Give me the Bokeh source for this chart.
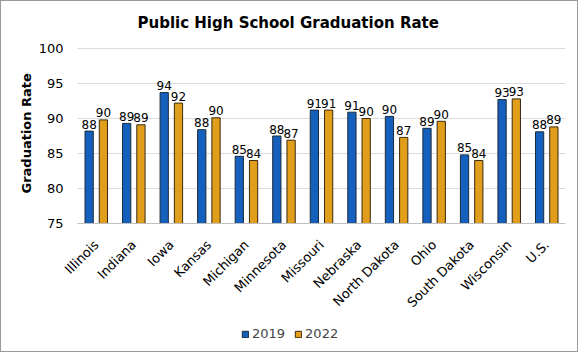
import math
from bokeh.plotting import figure
from bokeh.models import ColumnDataSource, Range1d, Legend, LegendItem, Title
from bokeh.transform import dodge
from bokeh.core.properties import value
from bokeh.embed import file_html
from bokeh.resources import INLINE

states = ["Illinois", "Indiana", "Iowa", "Kansas", "Michigan", "Minnesota", "Missouri",
          "Nebraska", "North Dakota", "Ohio", "South Dakota", "Wisconsin", "U.S."]
rate_2019 = [88.2, 89.3, 93.7, 88.4, 84.6, 87.5, 91.2, 90.9, 90.3, 88.6, 84.8, 92.7, 88.1]
rate_2022 = [89.8, 89.1, 92.2, 90.1, 84.0, 86.9, 91.2, 90.0, 87.3, 89.6, 84.0, 92.8, 88.8]
y_ticks = [75, 80, 85, 90, 95, 100]
y_base = 75
y_top = 100

FONT = "DejaVu Sans"
BLUE = "#1560BD"
ORANGE = "#E09E1A"

n = len(states)
src = ColumnDataSource(dict(
    xc=[i + 0.5 for i in range(n)],
    state=states,
    base=[y_base] * n,
    r19=rate_2019,
    r22=rate_2022,
    l19=[str(round(v)) for v in rate_2019],
    l22=[str(round(v)) for v in rate_2022],
))
tick_src = ColumnDataSource(dict(
    y=y_ticks,
    x0=[0] * len(y_ticks),
    x1=[n] * len(y_ticks),
    lab=[str(t) for t in y_ticks],
))

# layout (figure px): frame left 35, category area starts at 76, frame right 564
# frame top 38, value 100 at 47, value 75 at 222, frame bottom 344
frame_l, cat_l, frame_r = 35, 76, 564
frame_t, top_px, base_px, frame_b = 38, 47, 222, 344
px_per_cat = (frame_r - cat_l) / n
x_start = -(cat_l - frame_l) / px_per_cat
px_per_unit = (base_px - top_px) / (y_top - y_base)
y_start = y_base - (frame_b - base_px) / px_per_unit
y_end = y_top + (top_px - frame_t) / px_per_unit

p = figure(width=578, height=352, x_range=Range1d(x_start, n),
           y_range=Range1d(y_start, y_end),
           output_backend="svg", toolbar_location=None,
           x_axis_location=None, y_axis_location=None,
           min_border_left=frame_l, min_border_right=578 - frame_r,
           min_border_top=frame_t, min_border_bottom=352 - frame_b)
p.styles = {"border": "1px solid #9a9a9a"}
p.grid.visible = False
p.outline_line_color = None

p.title.text = "Public High School Graduation Rate"
p.title.text_font = FONT
p.title.text_font_size = "15px"
p.title.text_font_style = "bold"
p.title.align = "left"
p.title.offset = 101
p.title.standoff = 16
p.title.text_color = "#000000"

# horizontal grid lines and value labels
p.segment(x0="x0", x1="x1", y0="y", y1="y", source=tick_src,
          line_color="#dcdcdc", line_width=1)
p.text(x="x0", y="y", text="lab", source=tick_src, text_font=value(FONT),
       text_font_size="13px", text_align="right", text_baseline="middle",
       x_offset=-14, text_color="#000000")

off = 0.19
w = 0.22
b1 = p.vbar(x=dodge("xc", -off), top="r19", bottom="base", width=w,
            source=src, fill_color=BLUE, line_color="#1b2a3a", line_width=1)
b2 = p.vbar(x=dodge("xc", off), top="r22", bottom="base", width=w,
            source=src, fill_color=ORANGE, line_color="#3a2a10", line_width=1)

# axis line at the base value
p.segment(x0=[0], x1=[n], y0=[y_base], y1=[y_base], line_color="#bfbfbf", line_width=1)

for col, lab, sgn in (("r19", "l19", -1), ("r22", "l22", 1)):
    p.text(x=dodge("xc", sgn * off), y=col, text=lab, source=src,
           text_font=value(FONT), text_font_size="12px", text_align="center",
           text_baseline="alphabetic", y_offset=-7, text_color="#000000")

# category labels below the axis line, rotated 45 degrees
p.text(x="xc", y="base", text="state", source=src, angle=math.pi / 4,
       text_font=value(FONT), text_font_size="13px", text_align="right",
       text_baseline="middle", x_offset=0, y_offset=19, text_color="#000000")

ytitle = Title(text="Graduation Rate", align="left", offset=152, text_font=FONT,
               text_font_size="13px", text_font_style="bold", text_color="#000000",
               standoff=5)
p.add_layout(ytitle, "left")

legend = Legend(items=[LegendItem(label="2019", renderers=[b1]),
                       LegendItem(label="2022", renderers=[b2])],
                orientation="horizontal", location=(205, 4),
                glyph_width=8, glyph_height=8, label_text_font=FONT,
                label_text_font_size="13px", label_standoff=3, spacing=9,
                background_fill_alpha=0, border_line_color=None, padding=2, margin=0)
p.add_layout(legend, "center")

open("out.html", "w").write(file_html(p, INLINE))
